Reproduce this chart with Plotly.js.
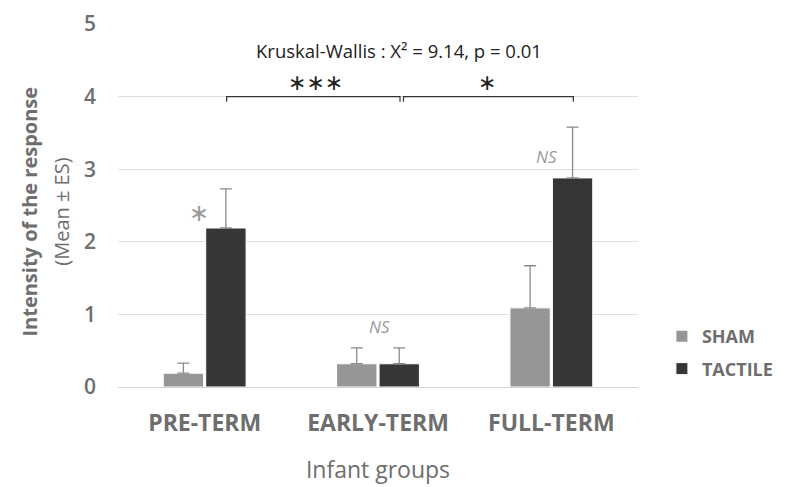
<!DOCTYPE html>
<html><head><meta charset="utf-8">
<script src="https://cdn.plot.ly/plotly-3.0.1.min.js"></script>
<style>body{margin:0;background:#fff}#c{width:800px;height:487px}</style>
</head><body><div id="c"></div>
<script>
const categories = ["PRE-TERM", "EARLY-TERM", "FULL-TERM"];
const shamMean = [0.19, 0.32, 1.09];
const shamErr = [0.14, 0.22, 0.58];
const tactileMean = [2.19, 0.32, 2.88];
const tactileErr = [0.54, 0.22, 0.70];
const seriesNames = ["SHAM", "TACTILE"];
const yTicks = [0, 1, 2, 3, 4, 5];
const statText = "Kruskal-Wallis : X² = 9.14, p = 0.01";

const font = "Open Sans, Lato, sans-serif";
const grey = "#6e6e6e";
const errStyle = {type: "data", symmetric: false, color: "#8a8a8a", thickness: 1.3, width: 6};

const traces = [
  {type: "bar", name: seriesNames[0], x: categories, y: shamMean, legendgroup: "a",
   marker: {color: "#969696", line: {color: "#ffffff", width: 1}},
   error_y: Object.assign({array: shamErr, arrayminus: shamErr.map(() => 0)}, errStyle)},
  {type: "bar", name: seriesNames[1], x: categories, y: tactileMean, legendgroup: "b",
   marker: {color: "#363636", line: {color: "#ffffff", width: 1}},
   error_y: Object.assign({array: tactileErr, arrayminus: tactileErr.map(() => 0)}, errStyle)}
];

const off = 0.127;
const layout = {
  width: 800, height: 487,
  margin: {l: 118, r: 162, t: 24, b: 100},
  paper_bgcolor: "#fff", plot_bgcolor: "#fff",
  font: {family: font, color: grey},
  barmode: "group", bargap: 0.51, bargroupgap: 0.05,
  showlegend: true,
  legend: {x: 1.046, y: 0.19, xanchor: "left", yanchor: "top", traceorder: "grouped",
           font: {size: 18, color: grey, family: font, weight: "bold"},
           tracegroupgap: 6, itemwidth: 30},
  xaxis: {type: "category", range: [-0.5, 2.5], showgrid: false, zeroline: false,
          showline: false, ticks: "", ticklabelstandoff: 20,
          tickfont: {size: 23, color: grey, family: font, weight: "bold"},
          title: {text: "Infant groups", font: {size: 23, color: grey, family: font}, standoff: 24}},
  yaxis: {range: [0, 5], tickvals: yTicks, showgrid: true, gridcolor: "#dedede", gridwidth: 1,
          zeroline: true, zerolinecolor: "#d6d6d6", zerolinewidth: 1, showline: false, ticks: "",
          tickfont: {size: 21, color: grey, family: font, weight: 600},
          ticklabelstandoff: 21},
  shapes: [
    {type: "path", xref: "x", yref: "y",
     path: `M ${0 + off} 3.93 L ${0 + off} 4 L ${1 + off} 4 L ${1 + off} 3.93`,
     line: {color: "#333", width: 1.2}},
    {type: "path", xref: "x", yref: "y",
     path: `M ${1 + off + 0.02} 3.93 L ${1 + off + 0.02} 4 L ${2 + off} 4 L ${2 + off} 3.93`,
     line: {color: "#333", width: 1.2}}
  ],
  annotations: [
    {text: "<b>Intensity of the response</b>", xref: "paper", yref: "paper", x: -0.2, y: 0.482,
     textangle: -90, showarrow: false, font: {size: 20, color: grey, family: font}},
    {text: "(Mean ± ES)", xref: "paper", yref: "paper", x: -0.14, y: 0.482,
     textangle: -90, showarrow: false, font: {size: 20, color: grey, family: font}},
    {text: statText, x: 1.12, y: 4.63, xref: "x", yref: "y", showarrow: false,
     font: {size: 18.5, color: "#222", family: font}},
    {text: "∗∗∗", x: 0.64, y: 4.19, xref: "x", yref: "y", showarrow: false,
     font: {size: 22, color: "#222", family: "DejaVu Sans"}},
    {text: "∗", x: 1.63, y: 4.19, xref: "x", yref: "y", showarrow: false,
     font: {size: 22, color: "#222", family: "DejaVu Sans"}},
    {text: "∗", x: -0.03, y: 2.39, xref: "x", yref: "y", showarrow: false,
     font: {size: 24, color: "#9a9a9a", family: "DejaVu Sans"}},
    {text: "<i>NS</i>", x: 1.01, y: 0.84, xref: "x", yref: "y", showarrow: false,
     font: {size: 17, color: "#9a9a9a", family: font}},
    {text: "<i>NS</i>", x: 1.97, y: 3.18, xref: "x", yref: "y", showarrow: false,
     font: {size: 17, color: "#9a9a9a", family: font}}
  ]
};
Plotly.newPlot("c", traces, layout, {displayModeBar: false, staticPlot: true});
</script></body></html>
